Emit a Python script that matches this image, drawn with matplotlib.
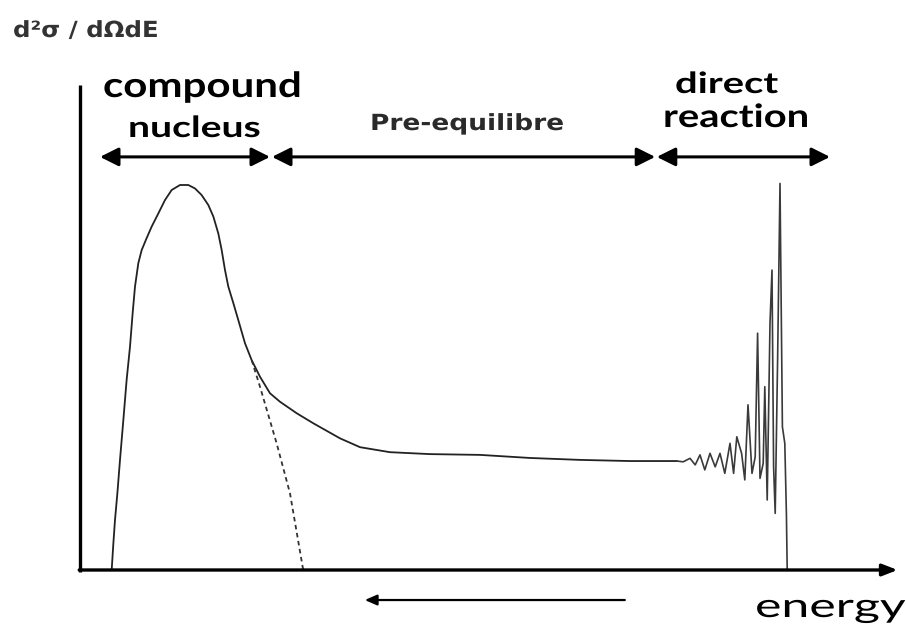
import matplotlib
matplotlib.use("Agg")
import matplotlib.pyplot as plt
from matplotlib.patheffects import AbstractPathEffect
from matplotlib.transforms import Affine2D

# schematic spectrum, energy in arbitrary units, cross section normalised to the peak
energy = [0.396, 0.417, 0.4375, 0.467, 0.50, 0.542, 0.583, 0.625, 0.658, 0.6875, 0.729,
          0.771, 0.833, 0.896, 0.979, 1.0625, 1.146, 1.25, 1.354, 1.4375, 1.52, 1.604,
          1.667, 1.729, 1.771, 1.8125, 1.854, 1.917, 1.979, 2.0625, 2.146, 2.25, 2.375,
          2.50, 2.71, 2.917, 3.25, 3.50, 3.875, 4.375, 5.0, 5.625, 6.25, 6.875, 7.46]
sigma = [0.0, 0.069, 0.130, 0.199, 0.286, 0.390, 0.494, 0.580, 0.667, 0.736, 0.797,
         0.831, 0.862, 0.892, 0.926, 0.961, 0.987, 1.0, 1.0, 0.991, 0.974, 0.948,
         0.918, 0.874, 0.831, 0.779, 0.736, 0.693, 0.649, 0.589, 0.545, 0.502, 0.459,
         0.437, 0.407, 0.381, 0.342, 0.319, 0.306, 0.301, 0.299, 0.291, 0.286, 0.283, 0.283]

# direct reaction region (discrete levels)
energy_dir = [7.46, 7.54, 7.625, 7.69, 7.75, 7.81, 7.875, 7.94, 8.0, 8.06, 8.125, 8.17,
              8.21, 8.27, 8.31, 8.35, 8.40, 8.44, 8.47, 8.50, 8.54, 8.56, 8.59, 8.625,
              8.65, 8.67, 8.69, 8.72, 8.75, 8.78, 8.81, 8.83, 8.84]
sigma_dir = [0.283, 0.281, 0.290, 0.273, 0.299, 0.260, 0.303, 0.268, 0.303, 0.251, 0.329, 0.251,
             0.346, 0.303, 0.234, 0.429, 0.251, 0.294, 0.615, 0.238, 0.277, 0.476, 0.182, 0.641,
             0.779, 0.268, 0.147, 0.545, 1.004, 0.372, 0.329, 0.147, 0.0]

# evaporation (compound nucleus) tail
energy_evap = [2.146, 2.25, 2.458, 2.625, 2.79]
sigma_evap = [0.545, 0.476, 0.329, 0.199, 0.0]

regions = ["compound\nnucleus", "Pre-equilibre", "direct\nreaction"]
region_edges = [(0.25, 2.375), (2.40, 7.19), (7.21, 9.375)]


class Stretch(AbstractPathEffect):
    # widen text horizontally, the original picture is stretched
    def __init__(self, sx):
        super().__init__()
        self.sx = sx

    def draw_path(self, renderer, gc, tpath, affine, rgbFace=None):
        renderer.draw_path(gc, tpath, Affine2D().scale(self.sx, 1) + affine, rgbFace)


W, H = 906, 625
fig = plt.figure(figsize=(W / 100, H / 100), dpi=100)
ax = fig.add_axes([80 / W, 55 / H, 800 / W, 385 / H])
ax.set_xlim(0, 10)
ax.set_ylim(0, 1)
ax.axis("off")

ax.plot(energy, sigma, color="#222222", lw=1.3, clip_on=False)
ax.plot(energy_dir, sigma_dir, color="#3a3a3a", lw=1.2, clip_on=False)
ax.plot(energy_evap, sigma_evap, color="#333333", lw=1.3, ls=(0, (2.5, 2)), clip_on=False)

# axes drawn by hand
ax.plot([0, 0], [-0.005, 1.26], color="black", lw=2.4, clip_on=False, solid_capstyle="butt")
ax.annotate("", xy=(10.22, 0), xytext=(-0.01, 0), annotation_clip=False,
            arrowprops=dict(arrowstyle="-|>,head_length=0.9,head_width=0.35", color="black",
                            lw=2.4, mutation_scale=10, shrinkA=0, shrinkB=0))

# region arrows
for (x0, x1) in region_edges:
    ax.annotate("", xy=(x1, 1.073), xytext=(x0, 1.073), annotation_clip=False,
                arrowprops=dict(arrowstyle="<|-|>,head_length=0.8,head_width=0.4", color="black",
                                lw=2.2, mutation_scale=14, shrinkA=0, shrinkB=0))

# arrow under the axis
ax.annotate("", xy=(3.56, -0.078), xytext=(6.81, -0.078), annotation_clip=False,
            arrowprops=dict(arrowstyle="-|>,head_length=0.8,head_width=0.35", color="black",
                            lw=1.6, mutation_scale=9, shrinkA=0, shrinkB=0))


def label(x, y, s, size, sx, **kw):
    fig.text(x / W, 1 - y / H, s, fontsize=size, ha="left", va="baseline",
             path_effects=[Stretch(sx)], **kw)


label(103, 97, "compound", 25, 1.21, family="Lato", weight="bold")
label(128, 137, "nucleus", 21, 1.34, family="Lato", weight="bold")
label(370, 130, regions[1], 16, 1.19, family="DejaVu Sans", weight="bold", color="#2a2a2a")
label(675, 93, "direct", 21, 1.37, family="Lato", weight="bold")
label(663, 127, "reaction", 23, 1.25, family="Lato", weight="bold")
label(13, 37, "d²σ / dΩdE", 16, 1.1, family="DejaVu Sans", weight="bold", color="#333333")
label(755, 617, "energy", 24, 1.5, family="Lato")

fig.savefig("out.png", dpi=100, facecolor="white")
